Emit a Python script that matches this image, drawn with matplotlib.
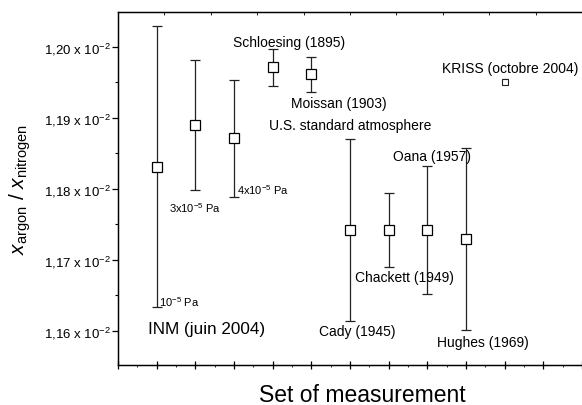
import matplotlib
matplotlib.use("Agg")
import matplotlib.pyplot as plt
import numpy as np
from matplotlib.ticker import MultipleLocator, FixedLocator

plt.rcParams['font.family'] = ['Liberation Sans', 'DejaVu Sans']
plt.rcParams['mathtext.fontset'] = 'custom'
plt.rcParams['mathtext.rm'] = 'Liberation Sans'
plt.rcParams['mathtext.it'] = 'Liberation Sans:italic'
plt.rcParams['mathtext.default'] = 'regular'

# Data (ratio in units of 1e-2)
positions = [1, 2, 3, 4, 5, 6, 7, 8, 9]
values = [1.1831, 1.1890, 1.1871, 1.1971, 1.1961, 1.1742, 1.1742, 1.1742, 1.1729]
errors = [0.0198, 0.0091, 0.0082, 0.0026, 0.0025, 0.0128, 0.0052, 0.0090, 0.0128]
kriss_pos = [10]
kriss_val = [1.1951]
kriss_err = [0.0003]

ytick_vals = [1.16, 1.17, 1.18, 1.19, 1.20]
ytick_labels = ['1,16 x 10$^{-2}$', '1,17 x 10$^{-2}$', '1,18 x 10$^{-2}$',
                '1,19 x 10$^{-2}$', '1,20 x 10$^{-2}$']

fig = plt.figure(figsize=(5.82, 4.06), dpi=100)
ax = fig.add_axes([0.2027, 0.0985, 0.7973, 0.8695])

ax.errorbar(positions, values, yerr=errors, fmt='s', ms=7.5, mfc='white', mec='black',
            mew=0.9, ecolor='#222222', elinewidth=0.9, capsize=3.5, capthick=0.9)
ax.errorbar(kriss_pos, kriss_val, yerr=kriss_err, fmt='s', ms=5.0, mfc='white', mec='#222222',
            mew=0.8, ecolor='#222222', elinewidth=0.8, capsize=2.0, capthick=0.8)

ax.set_xlim(0, 12)
ax.set_ylim(1.1552, 1.2049)
ax.yaxis.set_major_locator(FixedLocator(ytick_vals))
ax.set_yticklabels(ytick_labels, fontsize=9.5)
ax.yaxis.set_minor_locator(MultipleLocator(0.005))
ax.xaxis.set_major_locator(MultipleLocator(1))
ax.xaxis.set_minor_locator(MultipleLocator(0.5))
ax.set_xticklabels([])
ax.tick_params(axis='y', which='major', direction='out', length=4, width=0.9, pad=1)
ax.tick_params(axis='y', which='minor', direction='out', length=2.5, width=0.8)
ax.tick_params(axis='x', which='major', direction='inout', length=6, width=0.9)
ax.tick_params(axis='x', which='minor', direction='out', length=1.5, width=0.6)
ax.spines['right'].set_visible(False)
for s in ['left', 'bottom', 'top']:
    ax.spines[s].set_linewidth(1.0)

# top ticks
axt = ax.twiny()
axt.set_xlim(0, 12)
axt.xaxis.set_major_locator(FixedLocator(np.arange(1.2, 12, 1.2)))
axt.set_xticklabels([])
axt.tick_params(axis='x', direction='in', length=2.5, width=0.6)
axt.spines['right'].set_visible(False)

fig.text(362 / 582, 1 - 396 / 406, 'Set of measurement', ha='center', va='center', fontsize=16.5)
ax.set_ylabel(r'$\mathit{x}_{\mathrm{argon}}$ / $\mathit{x}_{\mathrm{nitrogen}}$', fontsize=15, labelpad=8)

fs = 10
ax.text(4.43, 1.2007, 'Schloesing (1895)', ha='center', va='center', fontsize=fs)
ax.text(5.72, 1.1921, 'Moissan (1903)', ha='center', va='center', fontsize=fs)
ax.text(6.0, 1.1890, 'U.S. standard atmosphere', ha='center', va='center', fontsize=fs)
ax.text(8.12, 1.18465, 'Oana (1957)', ha='center', va='center', fontsize=fs)
ax.text(7.40, 1.1676, 'Chackett (1949)', ha='center', va='center', fontsize=fs)
ax.text(6.19, 1.1600, 'Cady (1945)', ha='center', va='center', fontsize=fs)
ax.text(9.43, 1.15845, 'Hughes (1969)', ha='center', va='center', fontsize=fs)
ax.text(10.15, 1.19704, 'KRISS (octobre 2004)', ha='center', va='center', fontsize=fs)
ax.text(2.28, 1.16028, 'INM (juin 2004)', ha='center', va='center', fontsize=12.3)
ax.text(1.06, 1.1642, '10$^{-5}$ Pa', ha='left', va='center', fontsize=8)
ax.text(2.0, 1.1775, '3x10$^{-5}$ Pa', ha='center', va='center', fontsize=8)
ax.text(3.07, 1.1800, '4x10$^{-5}$ Pa', ha='left', va='center', fontsize=8)

fig.savefig('out.png', dpi=100)
